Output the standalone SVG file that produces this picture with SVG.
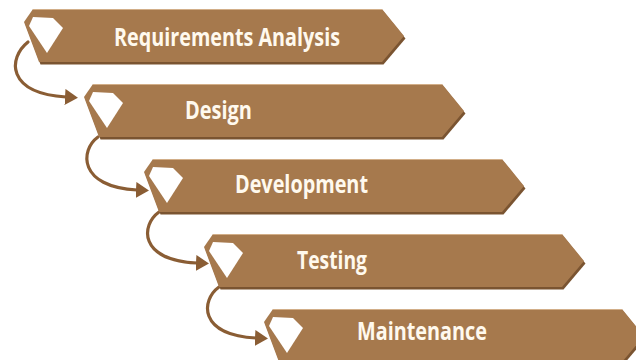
<svg xmlns="http://www.w3.org/2000/svg" xmlns:xlink="http://www.w3.org/1999/xlink" width="636" height="360" viewBox="0 0 636 360">
<style>
.shadow{fill:#7a5431;}
.box{fill:#a6794d;}
.hl{fill:none;stroke:#d2ae88;stroke-width:1;}
.gem{fill:#ffffff;}
.lbl{font-family:"Open Sans","Liberation Sans",sans-serif;font-weight:700;font-size:25px;fill:#fff9ee;}
.conn{fill:none;stroke:#8a5d34;stroke-width:3.2;stroke-linecap:round;}
</style>
<defs>
<path id="boxShape" d="M33 9 L382 9 L404 36 L382 62 L39 62 L24 22 Z"/>
<path id="gemShape" d="M33 17 L53 18 L63 28 L47 53 L29 26 Z"/>
<marker id="arr" markerUnits="userSpaceOnUse" markerWidth="14" markerHeight="18" refX="1" refY="8" orient="auto">
<path d="M0 0 L13 8 L0 16 Z" fill="#8a5d34"/>
</marker>
</defs>
<rect width="636" height="360" fill="#ffffff"/>
<g id="connectors">
<path class="conn" d="M28 42 C8 58 6 93 66 97" marker-end="url(#arr)"/>
<path class="conn" d="M98 137 C80 150 78 187 137 190" marker-end="url(#arr)"/>
<path class="conn" d="M159 212 C141 225 138 260 197 263" marker-end="url(#arr)"/>
<path class="conn" d="M219 287 C201 300 198 335 256 338" marker-end="url(#arr)"/>
</g>
<g id="n1">
<use href="#boxShape" class="shadow" transform="translate(1.5,2.5)"/>
<use href="#boxShape" class="box"/>
<path class="hl" d="M33 9.5 L382 9.5"/>
<use href="#gemShape" class="gem"/>
<text class="lbl" x="114" y="46" textLength="226" lengthAdjust="spacingAndGlyphs">Requirements Analysis</text>
</g>
<g id="n2" transform="translate(60,75)">
<use href="#boxShape" class="shadow" transform="translate(1.5,2.5)"/>
<use href="#boxShape" class="box"/>
<path class="hl" d="M33 9.5 L382 9.5"/>
<use href="#gemShape" class="gem"/>
<text class="lbl" x="125" y="44" textLength="67" lengthAdjust="spacingAndGlyphs">Design</text>
</g>
<g id="n3" transform="translate(120,150)">
<use href="#boxShape" class="shadow" transform="translate(1.5,2.5)"/>
<use href="#boxShape" class="box"/>
<path class="hl" d="M33 9.5 L382 9.5"/>
<use href="#gemShape" class="gem"/>
<text class="lbl" x="115" y="43" textLength="133" lengthAdjust="spacingAndGlyphs">Development</text>
</g>
<g id="n4" transform="translate(180,225)">
<use href="#boxShape" class="shadow" transform="translate(1.5,2.5)"/>
<use href="#boxShape" class="box"/>
<path class="hl" d="M33 9.5 L382 9.5"/>
<use href="#gemShape" class="gem"/>
<text class="lbl" x="117" y="44" textLength="70" lengthAdjust="spacingAndGlyphs">Testing</text>
</g>
<g id="n5" transform="translate(240,300)">
<use href="#boxShape" class="shadow" transform="translate(1.5,2.5)"/>
<use href="#boxShape" class="box"/>
<path class="hl" d="M33 9.5 L382 9.5"/>
<use href="#gemShape" class="gem"/>
<text class="lbl" x="117" y="40" textLength="130" lengthAdjust="spacingAndGlyphs">Maintenance</text>
</g>
</svg>
